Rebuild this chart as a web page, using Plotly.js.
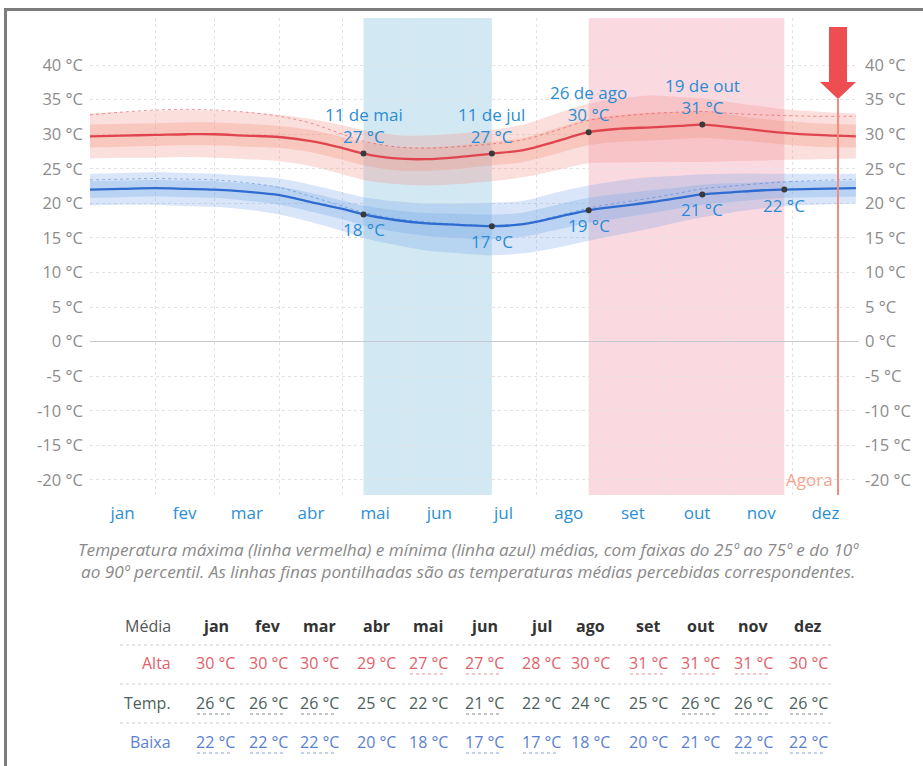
<!DOCTYPE html>
<html>
<head>
<meta charset="utf-8">
<script src="https://cdn.plot.ly/plotly-3.0.1.min.js"></script>
<style>
  html, body { margin: 0; padding: 0; background: #fff; }
  #chart { width: 923px; height: 766px; }
  #frame { position: absolute; left: 4px; top: 8px; width: 940px; height: 800px;
           border-top: 3px solid #7c7c7c; border-left: 3px solid #7c7c7c; pointer-events: none; }
</style>
</head>
<body>
<div id="chart"></div>
<div id="frame"></div>
<script>
// ---- data ----
const months = ['jan','fev','mar','abr','mai','jun','jul','ago','set','out','nov','dez'];
const monthStarts = [0,31,59,90,120,151,181,212,243,273,304,334];
const monthMid = [15.5,45,74.5,105,135.5,166,196.5,227.5,258,288.5,319,349.5];

const days = [0,15,31,46,59,74,90,105,120,130,145,160,175,191,206,222,237,252,267,280,291,305,320,330,345,364];
const hi   = [29.7,29.8,29.9,30.0,30.0,29.8,29.6,29.0,28.0,27.2,26.5,26.4,26.7,27.2,27.7,29.0,30.3,30.8,31.0,31.2,31.4,31.0,30.5,30.2,29.9,29.7];
const hi90 = [33.0,33.2,33.4,33.5,33.4,33.2,32.8,32.2,31.3,30.6,29.9,29.8,30.1,30.6,31.4,33.0,34.4,35.2,35.6,35.4,35.2,34.6,34.0,33.6,33.3,33.0];
const hi75 = [31.4,31.5,31.6,31.7,31.7,31.5,31.2,30.6,29.6,28.9,28.2,28.1,28.4,28.9,29.5,30.9,32.2,32.8,33.1,33.2,33.3,32.8,32.2,31.9,31.6,31.4];
const hi25 = [28.1,28.2,28.3,28.4,28.4,28.2,28.0,27.4,26.3,25.5,24.8,24.7,25.0,25.5,26.0,27.2,28.4,28.9,29.1,29.3,29.5,29.2,28.8,28.5,28.2,28.1];
const hi10 = [26.5,26.6,26.6,26.7,26.6,26.4,26.1,25.4,24.2,23.4,22.8,22.6,22.8,23.2,23.8,24.8,25.8,25.9,26.0,26.0,26.0,26.1,26.2,26.3,26.4,26.5];
const hiFeel = [32.8,33.2,33.5,33.6,33.5,33.2,32.6,31.6,30.0,29.0,28.2,28.0,28.2,28.6,29.2,30.6,32.0,32.6,33.0,33.2,33.3,33.0,32.8,32.7,32.6,32.6];

const lo   = [22.0,22.1,22.2,22.1,22.0,21.7,21.2,20.2,19.2,18.4,17.6,17.1,16.9,16.7,17.0,18.0,19.0,19.6,20.2,20.8,21.3,21.6,21.9,22.0,22.1,22.2];
const lo90 = [24.3,24.4,24.5,24.4,24.3,24.0,23.6,22.7,21.6,20.9,20.3,20.0,20.0,20.1,20.4,21.6,22.6,23.3,23.8,24.0,24.2,24.3,24.3,24.3,24.3,24.3];
const lo75 = [23.2,23.3,23.4,23.3,23.2,22.9,22.4,21.5,20.4,19.7,19.0,18.6,18.5,18.4,18.7,19.8,20.8,21.4,21.9,22.3,22.7,22.9,23.1,23.2,23.2,23.3];
const lo25 = [20.8,20.9,21.0,20.9,20.8,20.4,19.8,18.8,17.7,16.8,15.9,15.3,15.0,14.8,15.2,16.2,17.2,17.9,18.6,19.3,19.8,20.2,20.6,20.8,20.9,21.0];
const lo10 = [19.7,19.8,19.8,19.6,19.5,19.1,18.4,17.3,16.0,15.0,14.0,13.2,12.8,12.5,12.8,13.6,14.6,15.5,16.4,17.3,18.0,18.7,19.3,19.6,19.8,20.0];
const loFeel = [23.4,23.5,23.6,23.5,23.4,23.0,22.3,21.0,19.6,18.7,17.8,17.3,17.0,16.8,17.1,18.2,19.3,20.1,20.8,21.5,22.1,22.5,22.9,23.1,23.3,23.5];

const hiKeyDays = [130,191,237,291];
const hiKeyVals = [27.2,27.2,30.3,31.4];
const hiKeyLabels = ['11 de mai<br>27 °C','11 de jul<br>27 °C','26 de ago<br>30 °C','19 de out<br>31 °C'];
const loKeyDays = [130,191,237,291,330];
const loKeyVals = [18.4,16.7,19.0,21.3,22.0];
const loKeyLabels = ['18 °C','17 °C','19 °C','21 °C','22 °C'];

const coldSeason = [130,191];
const hotSeason = [237,330];
const nowDay = 355.5;

const yTicks = [-20,-15,-10,-5,0,5,10,15,20,25,30,35,40];

const tblRows = ['Alta','Temp.','Baixa'];
const tblAlta  = [30,30,30,29,27,27,28,30,31,31,31,30];
const tblTemp  = [26,26,26,25,22,21,22,24,25,26,26,26];
const tblBaixa = [22,22,22,20,18,17,17,18,20,21,22,22];
const tblAltaU  = [0,0,0,0,1,1,0,0,1,1,1,0];
const tblTempU  = [1,1,1,0,0,1,0,0,0,1,1,1];
const tblBaixaU = [1,1,1,0,0,1,1,0,0,0,1,1];

// ---- layout helpers ----
const FONT = 'Open Sans, Noto Sans, sans-serif';
const L = 90, R = 65, T = 18, B = 271, W = 923, H = 766;
const pw = W - L - R, ph = H - T - B;
const px = x => (x - L) / pw;
const py = y => (T + ph - y) / ph;

const redLine = '#e0454f', blueLine = '#2e6cd0';
const traces = [];
function band(lower, upper, color) {
  traces.push({x: days, y: lower, mode: 'lines', line: {width: 0, shape: 'spline'}, hoverinfo: 'skip', showlegend: false});
  traces.push({x: days, y: upper, mode: 'lines', line: {width: 0, shape: 'spline'}, fill: 'tonexty', fillcolor: color, hoverinfo: 'skip', showlegend: false});
}
band(hi10, hi90, 'rgba(242,150,140,0.30)');
band(hi25, hi75, 'rgba(240,140,120,0.28)');
band(lo10, lo90, 'rgba(110,160,230,0.26)');
band(lo25, lo75, 'rgba(110,160,230,0.28)');
traces.push({x: days, y: hiFeel, mode: 'lines', line: {color: 'rgba(224,69,79,0.55)', width: 1, dash: 'dot', shape: 'spline'}, showlegend: false});
traces.push({x: days, y: loFeel, mode: 'lines', line: {color: 'rgba(46,108,208,0.45)', width: 1, dash: 'dot', shape: 'spline'}, showlegend: false});
traces.push({x: days, y: hi, mode: 'lines', line: {color: redLine, width: 2.3, shape: 'spline'}, showlegend: false});
traces.push({x: days, y: lo, mode: 'lines', line: {color: blueLine, width: 2.3, shape: 'spline'}, showlegend: false});
traces.push({x: hiKeyDays, y: hiKeyVals, mode: 'markers', marker: {color: '#3a3a3a', size: 6}, showlegend: false});
traces.push({x: loKeyDays, y: loKeyVals, mode: 'markers', marker: {color: '#3a3a3a', size: 6}, showlegend: false});
// anchor trace for secondary axes
traces.push({x: [monthMid[0]], y: [0], xaxis: 'x2', yaxis: 'y2', mode: 'markers', marker: {opacity: 0}, hoverinfo: 'skip', showlegend: false});

const yRange = [-22.17, 46.81];
const xRange = [0, 365];
const yText = yTicks.map(v => v + ' °C');

const annotations = [];
const labelBlue = '#2a8cd4';
hiKeyDays.forEach((d, i) => annotations.push({x: d, y: hiKeyVals[i], xref: 'x', yref: 'y', text: hiKeyLabels[i], showarrow: false,
  xanchor: 'center', yanchor: 'bottom', yshift: 4, font: {family: FONT, size: 17, color: labelBlue}}));
loKeyDays.forEach((d, i) => annotations.push({x: d, y: loKeyVals[i], xref: 'x', yref: 'y', text: loKeyLabels[i], showarrow: false,
  xanchor: 'center', yanchor: 'top', yshift: -2, font: {family: FONT, size: 17, color: labelBlue}}));
annotations.push({x: nowDay, y: 0, xref: 'x', yref: 'paper', text: 'Agora', showarrow: false, xanchor: 'right', yanchor: 'bottom',
  xshift: -3, yshift: 2, font: {family: FONT, size: 17, color: '#f7a48c'}});

// caption
annotations.push({x: px(468), y: py(560), xref: 'paper', yref: 'paper', showarrow: false, xanchor: 'center', yanchor: 'middle',
  text: '<i>Temperatura máxima (linha vermelha) e mínima (linha azul) médias, com faixas do 25º ao 75º e do 10º<br>ao 90º percentil. As linhas finas pontilhadas são as temperaturas médias percebidas correspondentes.</i>',
  align: 'center', font: {family: FONT, size: 17.2, color: '#8a8a8a'}});

// table
const colX = [215,268,319,376,428,484,541,590,648,700,753,808];
const rowY = [626,663,703,742];
const TF = 16;
annotations.push({x: px(173), y: py(rowY[0]), xref: 'paper', yref: 'paper', showarrow: false, xanchor: 'right', yanchor: 'middle',
  text: 'Média', font: {family: FONT, size: TF, color: '#555'}});
months.forEach((m, i) => annotations.push({x: px(colX[i]), y: py(rowY[0]), xref: 'paper', yref: 'paper', showarrow: false,
  xanchor: 'center', yanchor: 'middle', text: '<b>' + m + '</b>', font: {family: FONT, size: TF, color: '#333'}}));
const rowData = [tblAlta, tblTemp, tblBaixa];
const rowU = [tblAltaU, tblTempU, tblBaixaU];
const rowCol = ['#e3606a', '#4d5f5c', '#5b7fd0'];
const shapes = [];
tblRows.forEach((r, j) => {
  annotations.push({x: px(173), y: py(rowY[j+1]), xref: 'paper', yref: 'paper', showarrow: false, xanchor: 'right', yanchor: 'middle',
    text: r, font: {family: FONT, size: TF, color: rowCol[j]}});
  rowData[j].forEach((v, i) => {
    annotations.push({x: px(colX[i]), y: py(rowY[j+1]), xref: 'paper', yref: 'paper', showarrow: false,
      xanchor: 'center', yanchor: 'middle', text: v + ' °C', font: {family: FONT, size: TF, color: rowCol[j]}});
    if (rowU[j][i]) shapes.push({type: 'line', xref: 'paper', yref: 'paper', x0: px(colX[i] - 18), x1: px(colX[i] + 18),
      y0: py(rowY[j+1] + 11), y1: py(rowY[j+1] + 11), line: {color: rowCol[j], width: 1, dash: 'dot'}, opacity: 0.7});
  });
});

shapes.push(
  {type: 'rect', xref: 'x', yref: 'paper', x0: coldSeason[0], x1: coldSeason[1], y0: 0, y1: 1, fillcolor: 'rgba(180,218,235,0.6)', line: {width: 0}, layer: 'below'},
  {type: 'rect', xref: 'x', yref: 'paper', x0: hotSeason[0], x1: hotSeason[1], y0: 0, y1: 1, fillcolor: 'rgba(249,202,214,0.72)', line: {width: 0}, layer: 'below'},
  {type: 'line', xref: 'x', yref: 'paper', x0: nowDay, x1: nowDay, y0: 0, y1: py(99), line: {color: '#f38c80', width: 2}, layer: 'above'},
  {type: 'path', xref: 'x', yref: 'paper', xsizemode: 'pixel', ysizemode: 'pixel', xanchor: nowDay, yanchor: 1,
   path: 'M -9 -9 L 9 -9 L 9 -64 L 18 -64 L 0 -81 L -18 -64 L -9 -64 Z', fillcolor: '#ee4d52', line: {width: 0}, layer: 'above'}
);
[645, 684, 723].forEach(y => shapes.push({type: 'line', xref: 'paper', yref: 'paper', x0: px(120), x1: px(832), y0: py(y), y1: py(y),
  line: {color: '#cfcfcf', width: 1, dash: 'dot'}}));

const layout = {
  width: W, height: H,
  margin: {l: L, r: R, t: T, b: B},
  paper_bgcolor: '#ffffff', plot_bgcolor: 'rgba(0,0,0,0)',
  font: {family: FONT},
  showlegend: false,
  xaxis: {range: xRange, tickvals: monthStarts, showticklabels: false, showgrid: true, gridcolor: '#e2e2e2', griddash: 'dot',
          zeroline: false, showline: false, ticks: '', fixedrange: true},
  xaxis2: {range: xRange, overlaying: 'x', side: 'bottom', anchor: 'y', tickvals: monthMid, ticktext: months, showgrid: false,
           zeroline: false, ticks: '', ticklabelstandoff: 6, tickfont: {family: FONT, size: 17, color: '#2b8fd6'}},
  yaxis: {range: yRange, tickvals: yTicks, ticktext: yText, showgrid: true, gridcolor: '#e2e2e2', griddash: 'dot',
          zeroline: true, zerolinecolor: '#c4c8d0', zerolinewidth: 1.5, ticks: '', ticklabelstandoff: 6,
          tickfont: {family: FONT, size: 16.5, color: '#8c8c8c'}},
  yaxis2: {range: yRange, overlaying: 'y', side: 'right', anchor: 'x', tickvals: yTicks, ticktext: yText, showgrid: false, zeroline: false,
           ticks: '', ticklabelstandoff: 6, tickfont: {family: FONT, size: 16.5, color: '#8c8c8c'}},
  annotations: annotations,
  shapes: shapes
};

Plotly.newPlot('chart', traces, layout, {displayModeBar: false, staticPlot: true});
</script>
</body>
</html>
